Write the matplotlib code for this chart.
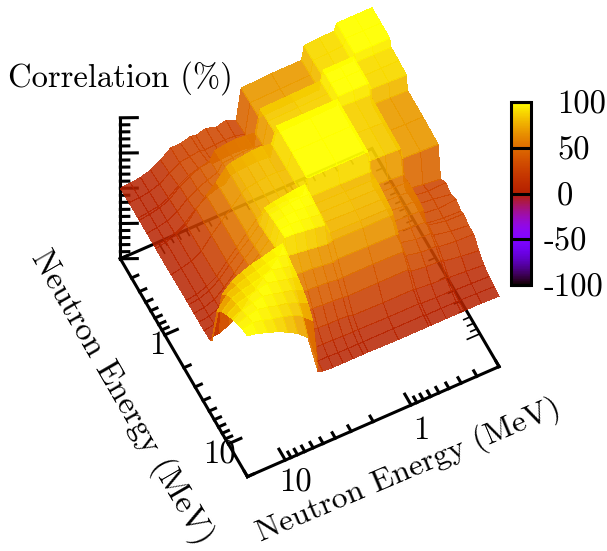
import numpy as np
import matplotlib
matplotlib.use("Agg")
import matplotlib.pyplot as plt
from matplotlib.colors import ListedColormap, Normalize
from matplotlib.cm import ScalarMappable

plt.rcParams['font.family'] = ['cmr10', 'DejaVu Sans']
plt.rcParams['axes.unicode_minus'] = False

# bin energies in MeV, read along the diagonal of the matrix
energies = [0.2, 0.276, 0.381, 0.399, 0.526, 0.693, 0.726, 1.262, 2.193, 2.405, 2.891,
            3.476, 4.179, 5.024, 5.509, 6.624, 7.962, 9.572, 11.51, 13.84, 16.63, 20.0]

# upper triangle of the correlation matrix (%), one row per energy, starting at the diagonal
corr_rows = [
    [100, 100, 100, 90, 90, 88, 69, 69, 67, 24, 31, 27, 32, 28, 30, 26, 26, 15, 7, 3, 1, 0],
    [100, 100, 91, 90, 89, 70, 69, 68, 27, 30, 31, 30, 29, 31, 29, 27, 18, 9, 4, 2, 1],
    [100, 91, 90, 90, 71, 70, 69, 31, 33, 34, 33, 32, 36, 34, 30, 22, 11, 5, 3, 1],
    [100, 100, 100, 86, 85, 84, 53, 55, 56, 55, 53, 42, 38, 32, 24, 12, 6, 3, 1],
    [100, 100, 87, 86, 85, 55, 57, 57, 55, 54, 44, 39, 33, 25, 13, 6, 3, 1],
    [100, 88, 87, 86, 56, 58, 58, 57, 55, 46, 44, 38, 28, 15, 7, 3, 1],
    [100, 100, 100, 78, 80, 80, 78, 76, 73, 58, 45, 32, 16, 8, 4, 1],
    [100, 100, 79, 81, 81, 79, 77, 73, 59, 46, 32, 16, 8, 4, 1],
    [100, 80, 82, 82, 81, 78, 74, 60, 46, 32, 17, 9, 4, 2],
    [100, 99, 97, 95, 92, 72, 58, 46, 33, 19, 9, 4, 2],
    [100, 99, 97, 95, 74, 60, 48, 34, 20, 9, 4, 2],
    [100, 99, 97, 76, 62, 49, 35, 20, 10, 4, 2],
    [100, 99, 78, 63, 50, 36, 21, 10, 5, 2],
    [100, 80, 65, 52, 38, 22, 11, 5, 3],
    [100, 97, 93, 90, 85, 78, 65, 6],
    [100, 97, 93, 90, 85, 78, 60],
    [100, 97, 93, 90, 85, 72],
    [100, 97, 93, 90, 80],
    [100, 97, 93, 87],
    [100, 97, 92],
    [100, 97],
    [100],
]

major_energy = [1, 10]
minor_energy = [0.2, 0.3, 0.4, 0.5, 0.6, 0.7, 0.8, 0.9, 2, 3, 4, 5, 6, 7, 8, 9, 20]
z_major = [-100, -50, 0, 50, 100]
z_minor = [-90, -80, -70, -60, -40, -30, -20, -10, 10, 20, 30, 40, 60, 70, 80, 90]
cbar_ticks = [100, 50, 0, -50, -100]

E_LO, E_HI = np.log10(0.2), np.log10(20.0)
W, H = 607, 551
BLACK_LW = 2.2


def pm3d_colormap():
    """gnuplot default pm3d palette (rgbformulae 7,5,15)."""
    g = np.linspace(0, 1, 256)
    return ListedColormap(np.column_stack([np.sqrt(g), g**3, np.clip(np.sin(2 * np.pi * g), 0, 1)]))


def build_matrix():
    n = len(energies)
    z = np.zeros((n, n))
    for i, row in enumerate(corr_rows):
        z[i, i:] = row
        z[i:, i] = row
    return z


def draw_frame(ax, zorder, back):
    def line(xs, ys, zs, lw=BLACK_LW):
        ax.plot(xs, ys, zs, color='k', lw=lw, zorder=zorder, solid_capstyle='projecting')

    floor = [-100, -100]
    if back:
        line([E_HI, E_LO], [E_LO, E_LO], floor)
        line([E_LO, E_LO], [E_LO, E_HI], floor)
        line([E_HI, E_HI], [E_LO, E_LO], [-100, 100])
        for v, size in [(v, 0.10) for v in major_energy] + [(v, 0.05) for v in minor_energy]:
            lv = np.log10(v)
            line([lv, lv], [E_LO, E_LO + size], floor, lw=1.2)
            line([E_LO, E_LO + size], [lv, lv], floor, lw=1.2)
        # z ticks stay horizontal on screen
        for v, size in [(v, 1.0) for v in z_major] + [(v, 0.5) for v in z_minor]:
            line([E_HI, E_HI - 0.108 * size], [E_LO, E_LO + 0.053 * size], [v, v])
    else:
        line([E_HI, E_LO], [E_HI, E_HI], floor)
        line([E_HI, E_HI], [E_LO, E_HI], floor)
        for v, size in [(v, 0.10) for v in major_energy] + [(v, 0.05) for v in minor_energy]:
            lv = np.log10(v)
            line([lv, lv], [E_HI, E_HI - size], floor)
            line([E_HI, E_HI - size], [lv, lv], floor)


def main():
    cmap = pm3d_colormap()
    norm = Normalize(-100, 100)
    fig = plt.figure(figsize=(W / 100, H / 100), dpi=100)

    size = 640
    ax = fig.add_axes([(309.7 - 0.5135 * size) / W, (308.8 - 0.5135 * size) / H, size / W, size / H],
                      projection='3d', proj_type='ortho', computed_zorder=False)
    ax.set_box_aspect((1, 1, 1), zoom=474 / size)
    ax.view_init(elev=60, azim=-116.8)
    ax.set_xlim(E_HI, E_LO)
    ax.set_ylim(E_HI, E_LO)
    ax.set_zlim(-100, 100)
    ax.set_axis_off()

    log_e = np.log10(energies)
    xx, yy = np.meshgrid(log_e, log_e)
    zz = build_matrix()
    mid = (zz[:-1, :-1] + zz[1:, :-1] + zz[:-1, 1:] + zz[1:, 1:]) / 4
    colors = cmap(norm(mid))
    # low values look washed out in the reference, the yellow ones do not
    colors[..., 3] = 0.85 + 0.1 * mid / 100

    draw_frame(ax, 1, True)
    ax.plot_surface(xx, yy, zz, facecolors=colors, rstride=1, cstride=1, shade=False,
                    linewidth=0, antialiased=False, zorder=2)
    draw_frame(ax, 3, False)

    def px_text(x, y, s, **kw):
        fig.text(x / W, 1 - y / H, s, ha=kw.pop('ha', 'center'), va=kw.pop('va', 'center'),
                 fontsize=kw.pop('fontsize', 23.5), **kw)

    px_text(120, 78, 'Correlation (%)')
    px_text(157.7, 345, '1')
    px_text(219, 455, '10')
    px_text(296, 483, '10')
    px_text(421, 430, '1')
    px_text(122, 397, 'Neutron Energy (MeV)', rotation=-60, rotation_mode='anchor')
    px_text(409, 471, 'Neutron Energy (MeV)', rotation=23, rotation_mode='anchor', fontsize=23)

    cax = fig.add_axes([510.5 / W, 1 - 285 / H, 20 / W, 183 / H])
    cb = fig.colorbar(ScalarMappable(norm=norm, cmap=cmap), cax=cax)
    cb.outline.set_linewidth(2.2)
    cb.set_ticks(cbar_ticks)
    cax.tick_params(axis='y', direction='in', length=14.4, width=2.2, labelright=False)
    for v in cbar_ticks:
        y = 288 - (v + 100) / 200 * 183
        px_text(557 if v >= 0 else 544, y, str(v), ha='left')

    fig.savefig('out.png', dpi=100)


if __name__ == "__main__":
    main()
